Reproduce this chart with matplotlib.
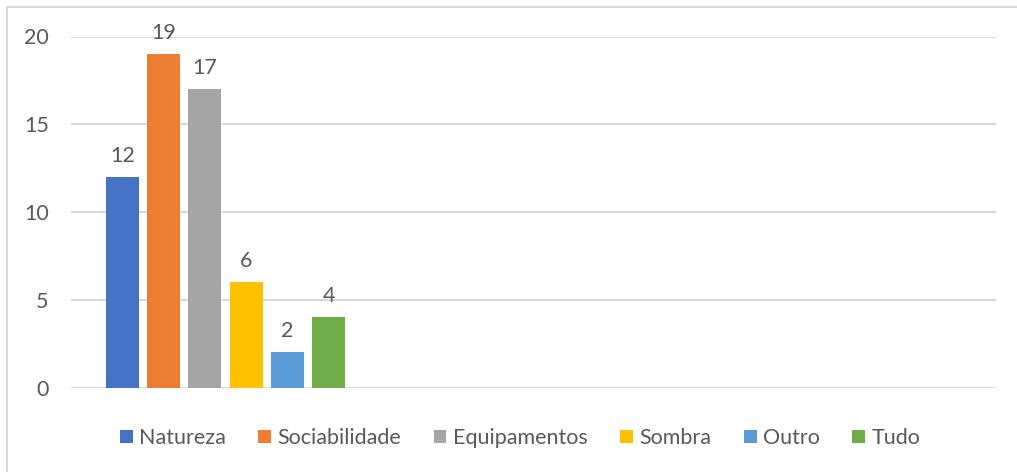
import numpy as np
import matplotlib.pyplot as plt
from matplotlib.lines import Line2D
from matplotlib.patches import Patch

categories = ['Natureza', 'Sociabilidade', 'Equipamentos', 'Sombra', 'Outro', 'Tudo']
values = [12, 19, 17, 6, 2, 4]
colors = ['#4472C4', '#ED7D31', '#A5A5A5', '#FFC000', '#5B9BD5', '#70AD47']
yticks = [0, 5, 10, 15, 20]

plt.rcParams['font.family'] = ['Lato', 'DejaVu Sans']
text_color = '#595959'
fs = 15.5

fig = plt.figure(figsize=(10.17, 4.72), dpi=100)
ax = fig.add_axes([71 / 1017, 84.5 / 472, 925 / 1017, 351 / 472])

x = np.arange(len(categories))
bars = ax.bar(x, values, width=0.8, color=colors, zorder=3)
ax.bar_label(bars, labels=[str(v) for v in values], padding=8,
             fontsize=fs, color=text_color)

ax.set_xlim(-1.25, 21.2)
ax.set_ylim(0, 20)
ax.set_yticks(yticks)
ax.set_xticks([])
ax.yaxis.grid(True, color='#D9D9D9', linewidth=1.5, zorder=0)
for s in ax.spines.values():
    s.set_visible(False)
ax.tick_params(axis='y', length=0, pad=16, labelsize=fs, labelcolor=text_color)

handles = [Patch(facecolor=c) for c in colors]
fig.legend(handles, categories, loc='center', bbox_to_anchor=(520 / 1017, 1 - 438 / 472),
           ncol=6, frameon=False, fontsize=fs, labelcolor=text_color,
           handlelength=0.6, handleheight=0.6, handletextpad=0.3, columnspacing=1.5)

# light chart border on top and left
fig.add_artist(Line2D([7 / 1017, 7 / 1017], [0, 1 - 7 / 472], color='#D9D9D9', linewidth=1.5))
fig.add_artist(Line2D([7 / 1017, 1], [1 - 7 / 472, 1 - 7 / 472], color='#D9D9D9', linewidth=1.5))

fig.savefig('out.png', dpi=100)
